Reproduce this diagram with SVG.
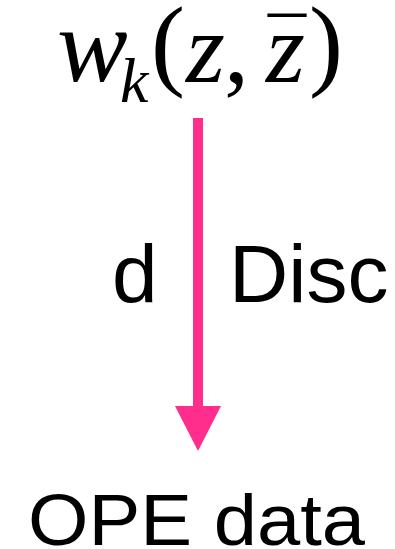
<svg xmlns="http://www.w3.org/2000/svg" width="395" height="549" viewBox="0 0 395 549">
<style>
.m{font-family:"Liberation Serif","Times New Roman",serif;font-style:italic;fill:#000}
.r{font-family:"Liberation Serif","Times New Roman",serif;fill:#000}
.s{font-family:"Liberation Sans",Arial,sans-serif;fill:#000}
</style>
<g id="top">
<text class="m" x="57" y="81" font-size="106">w</text>
<text class="m" x="120" y="102" font-size="64">k</text>
<text class="r" x="151" y="77" font-size="102">(</text>
<text class="m" x="186" y="82" font-size="100">z</text>
<text class="r" x="224" y="82" font-size="100">,</text>
<text class="m" x="266" y="82" font-size="100">z</text>
<text class="r" x="268" y="71" font-size="76">¯</text>
<text class="r" x="309" y="77" font-size="102">)</text>
</g>
<g id="connectors">
<line x1="198" y1="118" x2="198" y2="406" stroke="#FF2E8C" stroke-width="10"/>
<path d="M175,406 L221,406 L198,451 Z" fill="#FF2E8C"/>
</g>
<g id="labels">
<text class="s" x="112" y="302" font-size="82">d</text>
<text class="s" x="229" y="302" font-size="82">Disc</text>
</g>
<g id="bottom">
<text class="s" x="28" y="545" font-size="72" textLength="337" lengthAdjust="spacingAndGlyphs">OPE data</text>
</g>
</svg>
